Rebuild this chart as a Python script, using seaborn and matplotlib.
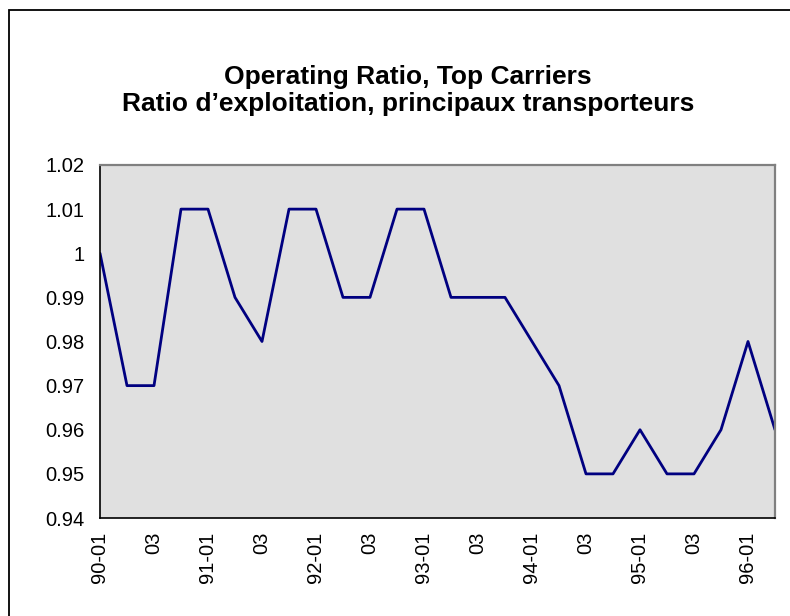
import pandas as pd
import matplotlib.pyplot as plt
import seaborn as sns
from matplotlib.patches import Rectangle

# Ustawienia wykresu
sns.set_style("white")
plt.rcParams["font.family"] = ["Liberation Sans", "DejaVu Sans"]
plt.rcParams["text.color"] = "black"
plt.rcParams["xtick.color"] = "black"
plt.rcParams["ytick.color"] = "black"

# Dane kwartalne 1990-01 .. 1996-02
quarters = ["90-01", "90-02", "90-03", "90-04",
            "91-01", "91-02", "91-03", "91-04",
            "92-01", "92-02", "92-03", "92-04",
            "93-01", "93-02", "93-03", "93-04",
            "94-01", "94-02", "94-03", "94-04",
            "95-01", "95-02", "95-03", "95-04",
            "96-01", "96-02"]
ratio = [1.00, 0.97, 0.97, 1.01, 1.01, 0.99, 0.98, 1.01, 1.01, 0.99,
         0.99, 1.01, 1.01, 0.99, 0.99, 0.99, 0.98, 0.97, 0.95, 0.95,
         0.96, 0.95, 0.95, 0.96, 0.98, 0.96]
tick_labels = ["90-01", "", "03", "", "91-01", "", "03", "", "92-01", "",
               "03", "", "93-01", "", "03", "", "94-01", "", "03", "",
               "95-01", "", "03", "", "96-01", ""]
y_ticks = [0.94, 0.95, 0.96, 0.97, 0.98, 0.99, 1.00, 1.01, 1.02]

df = pd.DataFrame({"Quarter": quarters, "Ratio": ratio})
df["Idx"] = range(len(df))

W, H = 790, 616
fig = plt.figure(figsize=(W / 100, H / 100), dpi=100)
ax = fig.add_axes([100 / W, 1 - 518 / H, 675 / W, 353 / H])
ax.set_facecolor("#E0E0E0")

sns.lineplot(data=df, x="Idx", y="Ratio", color="#000080", linewidth=2, ax=ax)

ax.set_xlim(0, len(df) - 1)
ax.set_ylim(0.94, 1.02)
ax.set_xticks(df["Idx"])
ax.set_xticklabels(tick_labels, rotation=90, fontsize=14.5)
ax.set_yticks(y_ticks)
ax.set_yticklabels([f"{v:g}" for v in y_ticks], fontsize=14.5)
ax.set_xlabel("")
ax.set_ylabel("")
ax.tick_params(axis="x", direction="inout", length=9, width=1, color="black", pad=5.5)
ax.tick_params(axis="y", direction="out", length=6, width=1, color="black", pad=5)

for side in ["left", "bottom"]:
    ax.spines[side].set_color("black")
    ax.spines[side].set_linewidth(1.2)
for side in ["top", "right"]:
    ax.spines[side].set_color("#808080")
    ax.spines[side].set_linewidth(1.6)

# Tytuł (dwie linie)
fig.text(408 / W, 1 - 77 / H, "Operating Ratio, Top Carriers",
         ha="center", va="center", fontsize=19, fontweight="bold")
fig.text(408 / W, 1 - 104 / H, "Ratio d\u2019exploitation, principaux transporteurs",
         ha="center", va="center", fontsize=19, fontweight="bold")

# Ramka wokół wykresu
top = 1 - 9.5 / H
fig.patches.append(Rectangle((8.5 / W, -0.05), 1.1, top + 0.05, fill=False,
                             edgecolor="black", linewidth=1.3,
                             transform=fig.transFigure, figure=fig))

fig.savefig("out.png", dpi=100)
